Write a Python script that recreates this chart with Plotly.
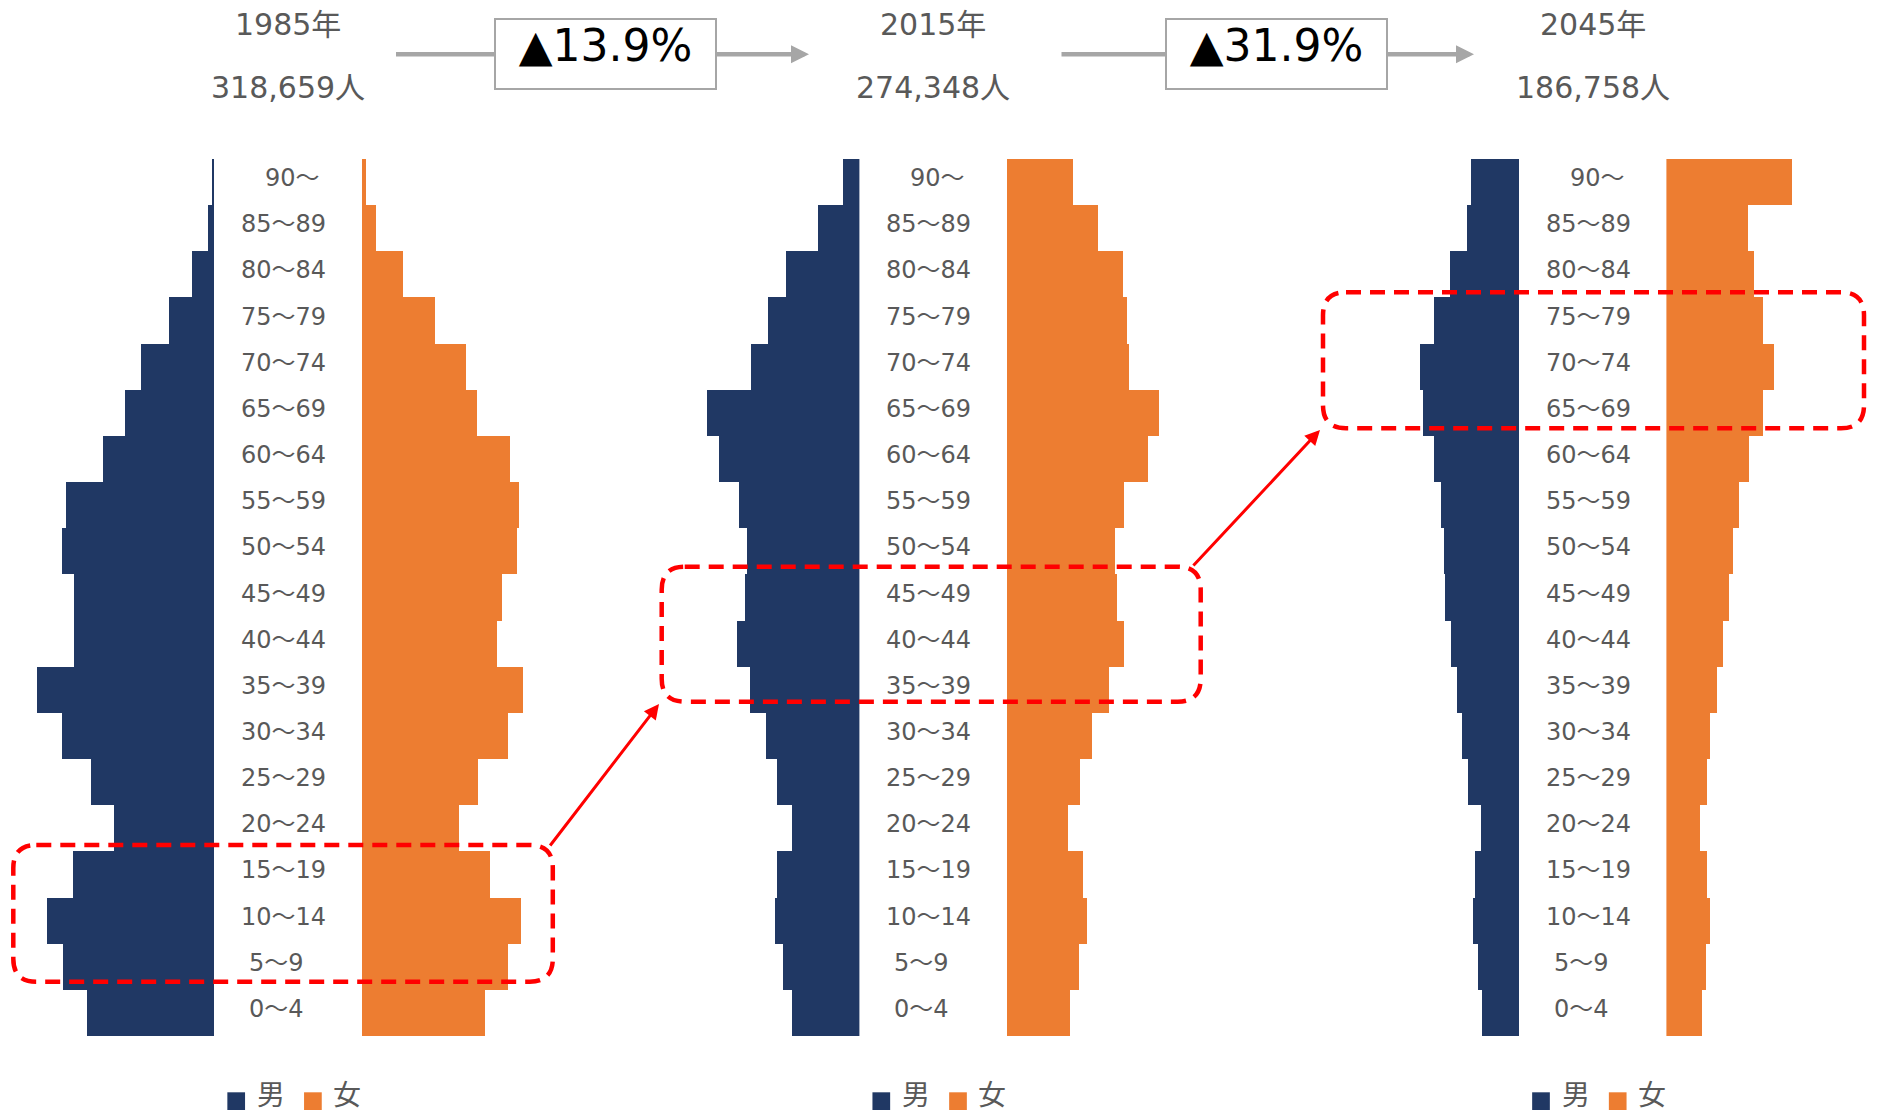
import plotly.graph_objects as go

# ---------------- data ----------------
AGES = ["0～4", "5～9", "10～14", "15～19", "20～24", "25～29", "30～34", "35～39", "40～44",
        "45～49", "50～54", "55～59", "60～64", "65～69", "70～74", "75～79", "80～84", "85～89", "90～"]

YEARS = ["1985年", "2015年", "2045年"]
TOTALS = ["318,659人", "274,348人", "186,758人"]
CHANGES = ["▲13.9%", "▲31.9%"]

MALE_1985 = [9571, 11360, 12550, 10618, 7541, 9240, 11450, 13328, 10582, 10555,
             11450, 11154, 8381, 6709, 5456, 3372, 1610, 447, 80]
FEMALE_1985 = [9303, 11029, 11986, 9687, 7335, 8766, 11002, 12165, 10197, 10582,
               11691, 11834, 11181, 8677, 7872, 5519, 3068, 1073, 295]

MALE_2015 = [5134, 5761, 6388, 6245, 5080, 6272, 7052, 8270, 9256, 8664,
             8485, 9139, 10636, 11532, 8243, 6962, 5555, 3163, 1281]
FEMALE_2015 = [4749, 5439, 6030, 5734, 4632, 5528, 6424, 7706, 8844, 8270,
               8154, 8844, 10636, 11469, 9229, 9023, 8718, 6836, 4991]

MALE_2045 = [2769, 3104, 3465, 3272, 2853, 3801, 4254, 4673, 5093, 5596,
             5646, 5848, 6402, 7215, 7492, 6435, 5202, 3918, 3633]
FEMALE_2045 = [2710, 3020, 3331, 3079, 2576, 3129, 3356, 3859, 4279, 4757,
               5059, 5512, 6267, 7299, 8163, 7299, 6653, 6150, 9539]

LEGEND_LABELS = ["男", "女"]

MALES = [MALE_1985, MALE_2015, MALE_2045]
FEMALES = [FEMALE_1985, FEMALE_2015, FEMALE_2045]

# ---------------- style / layout ----------------
W, H = 1881, 1114
NAVY = "#203864"
ORANGE = "#ED7D31"
GREY_TXT = "#595959"
GREY_LINE = "#A6A6A6"
RED = "#FF0000"
FONT = "DejaVu Sans, Noto Sans CJK JP, sans-serif"

PPX = 75.45          # people per pixel
XMAX = 15000
SPAN = XMAX / PPX
MALE_EDGE = [214.3, 859.4, 1519.3]
FEMALE_EDGE = [361.8, 1006.9, 1666.4]
PLOT_TOP, PLOT_BOTTOM = 159, 1036


def px(x):
    return x / W


def py(y):
    return 1 - y / H


fig = go.Figure()
layout = dict(
    width=W, height=H,
    margin=dict(l=0, r=0, t=0, b=0),
    paper_bgcolor="white", plot_bgcolor="white",
    showlegend=False, bargap=0, barmode="overlay",
    yaxis=dict(domain=[py(PLOT_BOTTOM), py(PLOT_TOP)], type="category",
               categoryorder="array", categoryarray=AGES, range=[-0.5, 18.5],
               visible=False, fixedrange=True),
)

annotations = []
shapes = []

for i in range(3):
    mx = "x" if i == 0 else f"x{2 * i + 1}"
    fx = f"x{2 * i + 2}"
    mkey = "xaxis" if i == 0 else f"xaxis{2 * i + 1}"
    fkey = f"xaxis{2 * i + 2}"
    layout[mkey] = dict(domain=[px(MALE_EDGE[i] - SPAN), px(MALE_EDGE[i])], range=[XMAX, 0],
                        anchor="y", visible=False, fixedrange=True)
    layout[fkey] = dict(domain=[px(FEMALE_EDGE[i]), px(FEMALE_EDGE[i] + SPAN)], range=[0, XMAX],
                        anchor="y", visible=False, fixedrange=True)

    fig.add_trace(go.Bar(y=AGES, x=MALES[i], orientation="h", xaxis=mx, yaxis="y",
                         marker=dict(color=NAVY, line=dict(width=0)), name=LEGEND_LABELS[0]))
    fig.add_trace(go.Bar(y=AGES, x=FEMALES[i], orientation="h", xaxis=fx, yaxis="y",
                         marker=dict(color=ORANGE, line=dict(width=0)), name=LEGEND_LABELS[1]))

    # age labels
    for k, lab in enumerate(AGES):
        if len(lab) >= 5:
            shift = 0
        elif lab.startswith("90"):
            shift = 24
        else:
            shift = 8.5
        annotations.append(dict(
            x=px(MALE_EDGE[i] + 24.5), xref="paper", y=k, yref="y",
            xanchor="left", yanchor="middle", xshift=shift, yshift=4,
            text=lab, showarrow=False,
            font=dict(family=FONT, size=24, color=GREY_TXT)))

    center = (MALE_EDGE[i] + FEMALE_EDGE[i]) / 2
    # header
    annotations.append(dict(x=px(center), y=py(24.5), xref="paper", yref="paper",
                            text=YEARS[i], showarrow=False, xanchor="center", yanchor="middle",
                            font=dict(family=FONT, size=30, color=GREY_TXT)))
    annotations.append(dict(x=px(center), y=py(87.5), xref="paper", yref="paper",
                            text=TOTALS[i], showarrow=False, xanchor="center", yanchor="middle",
                            font=dict(family=FONT, size=30, color=GREY_TXT)))

    # custom legend
    lc = center
    for sx, col in ((lc - 60.7, NAVY), (lc + 16, ORANGE)):
        shapes.append(dict(type="rect", xref="paper", yref="paper",
                           x0=px(sx), x1=px(sx + 17.7), y0=py(1110), y1=py(1092.3),
                           fillcolor=col, line=dict(width=0)))
    for tx, lab in ((lc - 33, LEGEND_LABELS[0]), (lc + 42.7, LEGEND_LABELS[1])):
        annotations.append(dict(x=px(tx), y=py(1113.5), xref="paper", yref="paper",
                                text=lab, showarrow=False, xanchor="left", yanchor="bottom",
                                font=dict(family=FONT, size=28, color=GREY_TXT)))

# grey connector arrows + change boxes
for (tail, head, bx), txt in zip([(394.5, 809, 605), (1060, 1474, 1276)], CHANGES):
    annotations.append(dict(x=px(head), y=py(54.3), xref="paper", yref="paper",
                            ax=tail - head, ay=0, text="", showarrow=True,
                            arrowhead=2, arrowsize=0.8, arrowwidth=4.5, arrowcolor=GREY_LINE))
    annotations.append(dict(x=px(bx), y=py(54), xref="paper", yref="paper",
                            text=txt, showarrow=False, xanchor="center", yanchor="middle",
                            width=219, height=68, borderpad=0, borderwidth=2, valign="top",
                            bordercolor=GREY_LINE, bgcolor="white",
                            font=dict(family=FONT, size=44, color="black")))


# dashed rounded highlight boxes
def rounded(x0, y0, x1, y1, r=23):
    X0, X1 = px(x0), px(x1)
    Y0, Y1 = py(y0), py(y1)
    rx, ry = r / W, r / H
    return (f"M {X0 + rx},{Y0} L {X1 - rx},{Y0} Q {X1},{Y0} {X1},{Y0 - ry} "
            f"L {X1},{Y1 + ry} Q {X1},{Y1} {X1 - rx},{Y1} "
            f"L {X0 + rx},{Y1} Q {X0},{Y1} {X0},{Y1 + ry} "
            f"L {X0},{Y0 - ry} Q {X0},{Y0} {X0 + rx},{Y0} Z")


for box in [(13.3, 845, 552.8, 981.7), (661.7, 566.7, 1200.7, 701.7), (1323, 292.3, 1864, 428.3)]:
    shapes.append(dict(type="path", xref="paper", yref="paper", path=rounded(*box),
                       line=dict(color=RED, width=4.5, dash="15px,9px"),
                       fillcolor="rgba(0,0,0,0)", layer="above"))

# red arrows between highlighted cohorts
for (tx, ty), (hx, hy) in [((549, 847), (659, 704)), ((1192, 567), (1320, 430))]:
    annotations.append(dict(x=px(hx), y=py(hy), xref="paper", yref="paper",
                            ax=tx - hx, ay=ty - hy, text="", showarrow=True,
                            arrowhead=2, arrowsize=1, arrowwidth=3, arrowcolor=RED))

layout["annotations"] = annotations
layout["shapes"] = shapes
fig.update_layout(**layout)
fig.write_html("out.html", config={"displayModeBar": False})
